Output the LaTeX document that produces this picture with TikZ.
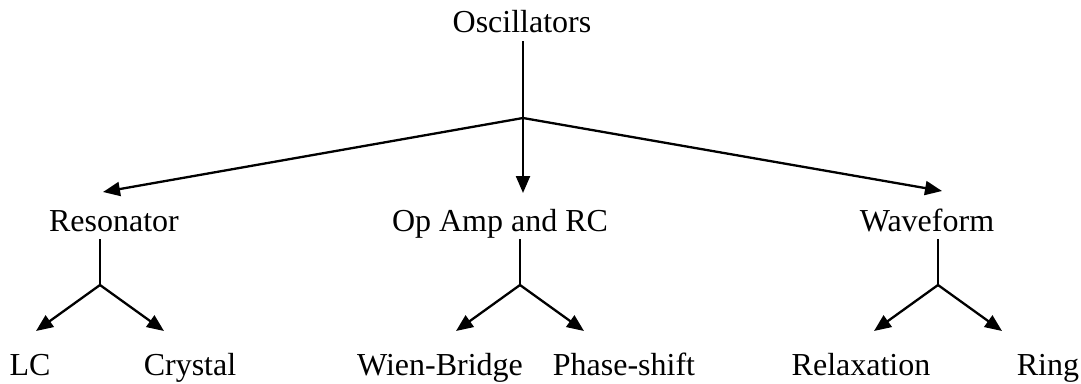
\documentclass[tikz,border=0pt]{standalone}
\usepackage{fontspec}
\setmainfont{Liberation Serif}
\usepackage{tikz}
\usetikzlibrary{arrows.meta}
\usetikzlibrary{positioning}
\tikzset{every picture/.style={line width=2.3pt},
  lbl/.style={anchor=base,inner sep=0pt,font=\fontsize{32}{38}\selectfont},
  arr/.style={-{Triangle[length=17pt,width=14pt]}}}

\begin{document}
\begin{tikzpicture}[x=1pt,y=-1pt]
\useasboundingbox (0,0) rectangle (1081,383);
% top level
\node[lbl] (osc) at (522,32) {Oscillators};
\coordinate (s0) at (523,41);
\coordinate (j0) at (523,118);
\draw[-] (s0) -- (j0);
\node[lbl] (res) at (114,231) {Resonator};
\node[lbl] (opa) at (500,231) {Op Amp and RC};
\node[lbl] (wav) at (927,231) {Waveform};
\coordinate (t1) at (103,192);
\coordinate (t2) at (523,193);
\coordinate (t3) at (942,191);
\draw[arr] (j0) -- (t1);
\draw[arr] (j0) -- (t2);
\draw[arr] (j0) -- (t3);
% second level
\foreach \n/\x in {res/100,opa/520,wav/938}{
\coordinate (s\n) at (\x,239);
\coordinate (j\n) at (\x,285);
\coordinate (l\n) at (\x-64,331);
\coordinate (r\n) at (\x+64,331);
\draw[-] (s\n) -- (j\n);
\draw[arr] (j\n) -- (l\n);
\draw[arr] (j\n) -- (r\n);
}
\node[lbl] (lc) at (30,375) {LC};
\node[lbl] (cry) at (190,375) {Crystal};
\node[lbl] (wie) at (440,375) {Wien-Bridge};
\node[lbl] (pha) at (624,375) {Phase-shift};
\node[lbl] (rel) at (861,375) {Relaxation};
\node[lbl] (rin) at (1048,375) {Ring};
\end{tikzpicture}
\end{document}
